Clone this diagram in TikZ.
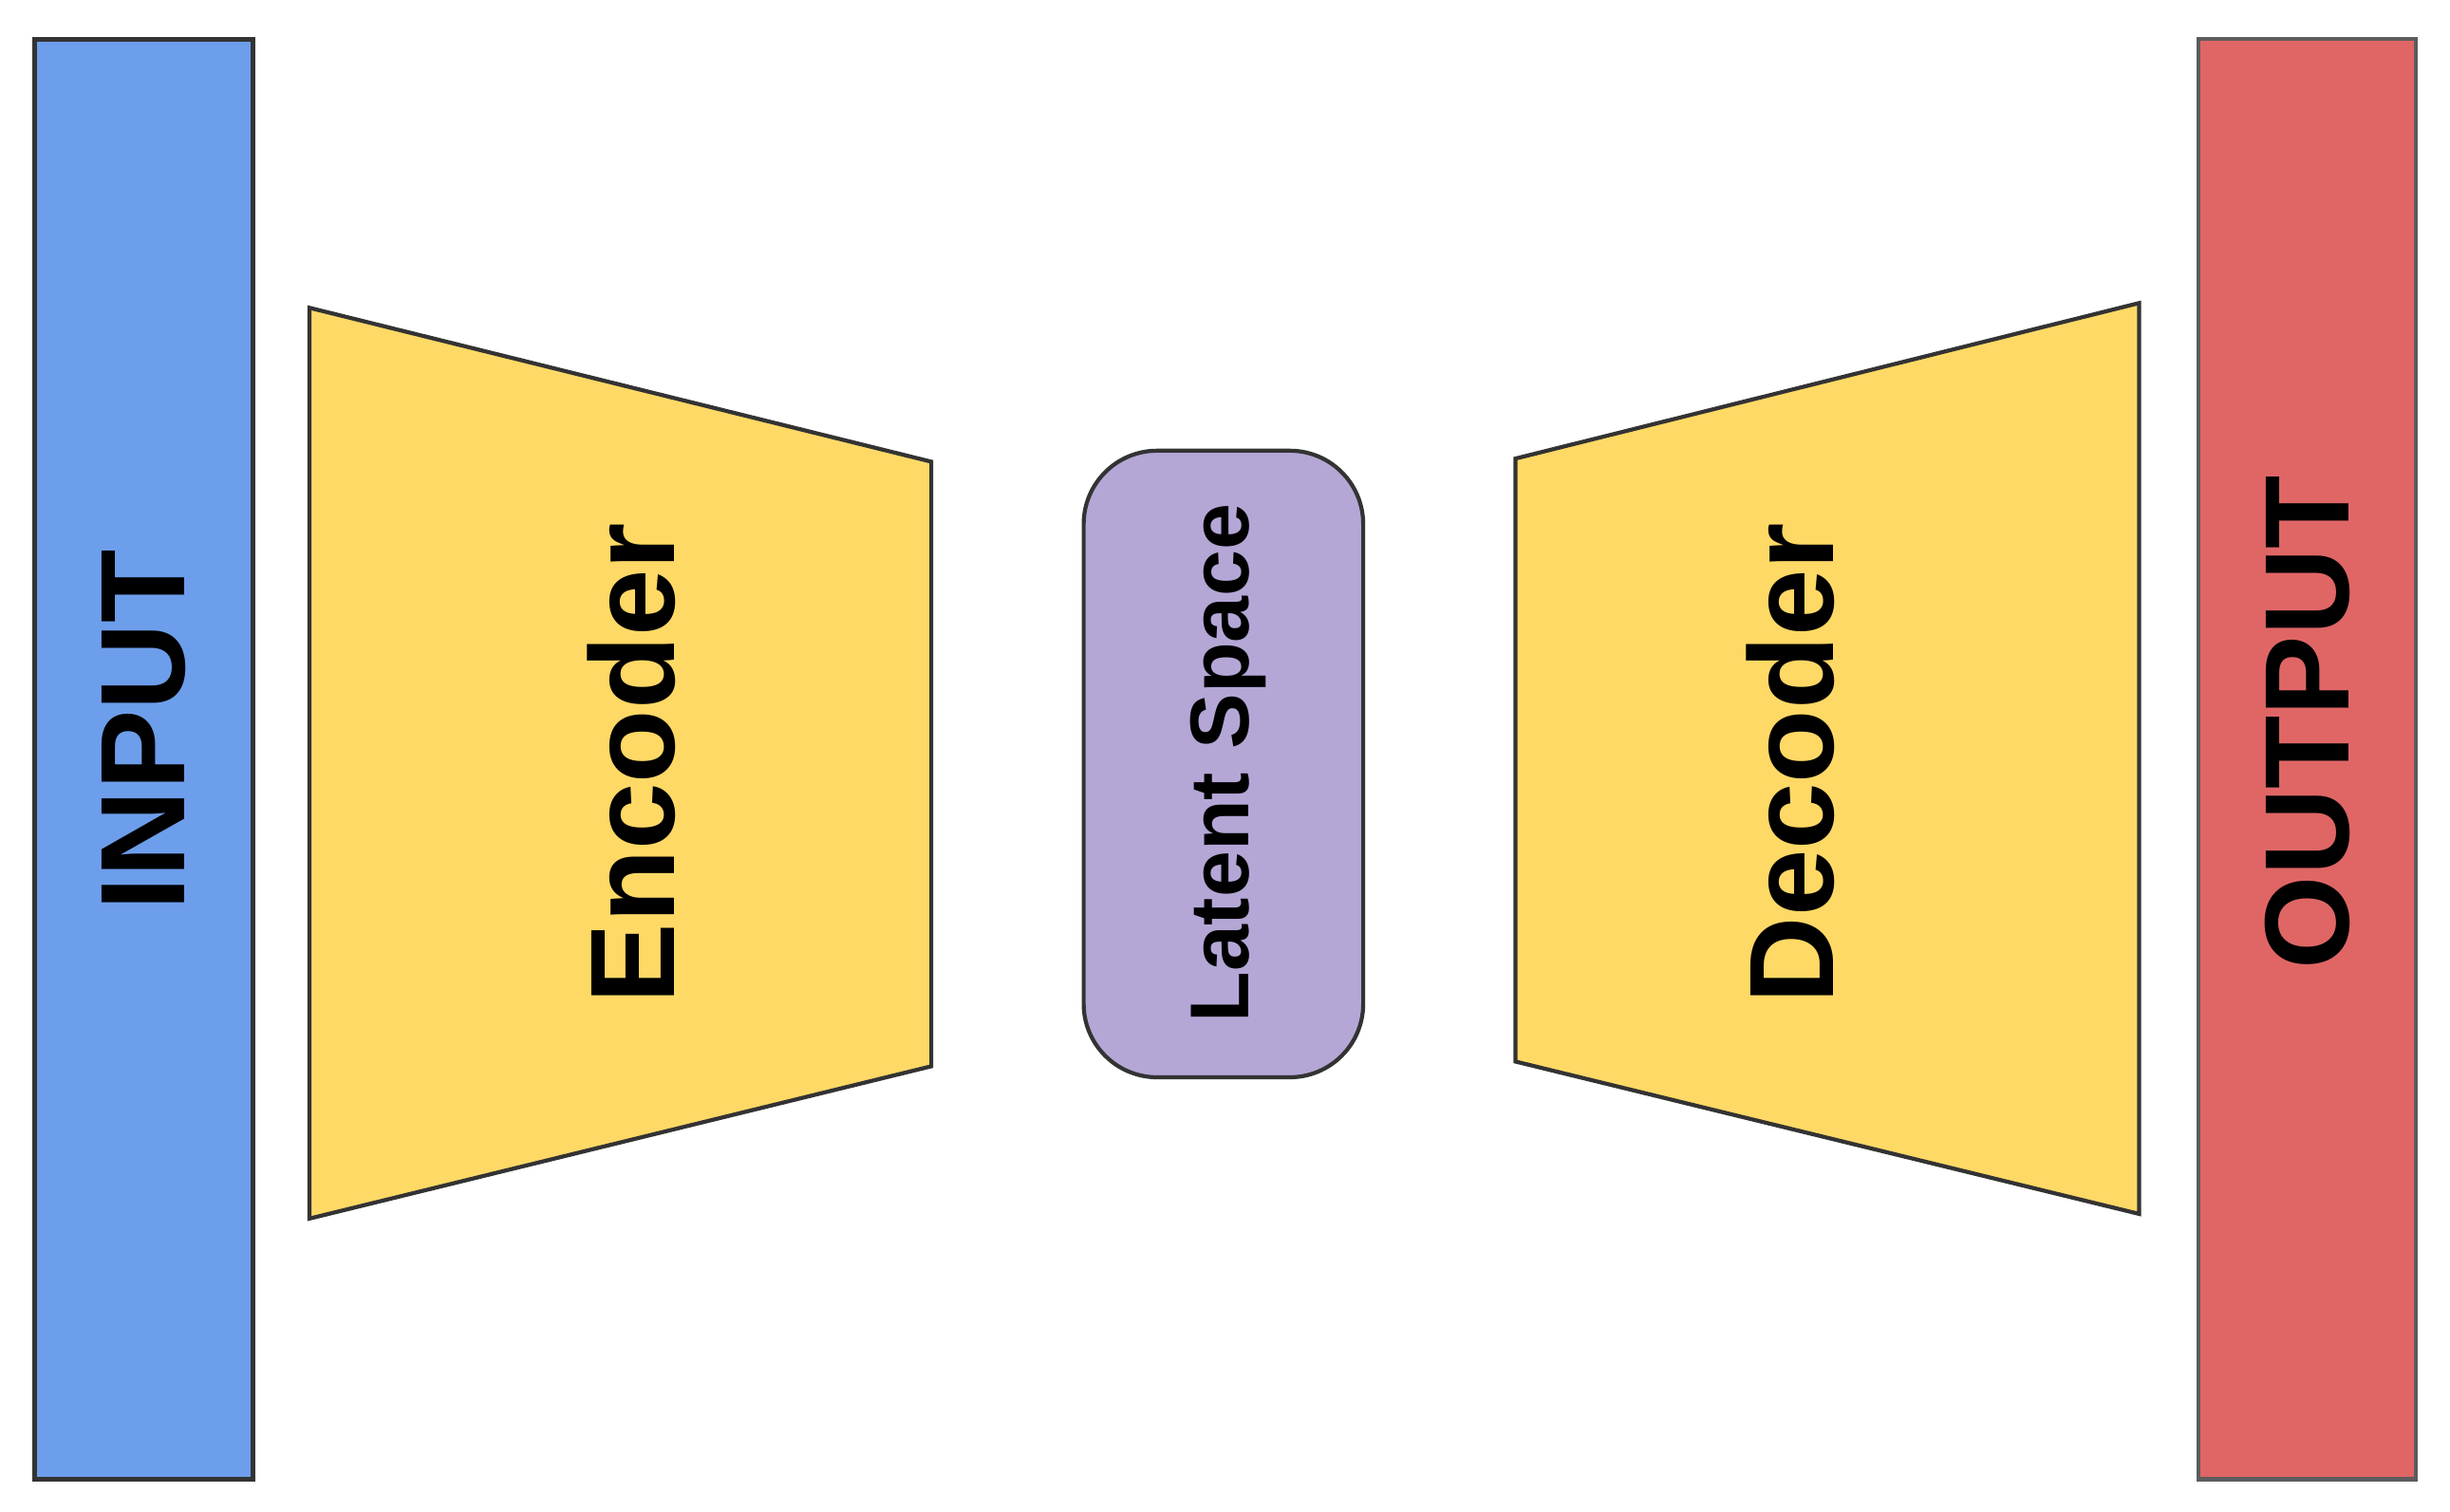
\documentclass[tikz,border=0pt]{standalone}
\usepackage{fontspec}
\setmainfont{Liberation Sans}
\definecolor{cblue}{HTML}{6D9EEB}
\definecolor{cyel}{HTML}{FFD966}
\definecolor{cpur}{HTML}{B4A7D6}
\definecolor{cred}{HTML}{E06666}
\definecolor{cedge}{HTML}{333333}
\begin{document}
\begin{tikzpicture}[x=0.016545cm,y=-0.016545cm,
  shp/.style={draw=cedge,line width=1.2pt},
  lbl/.style={rotate=90,font=\fontsize{36}{40}\selectfont\bfseries}]
\useasboundingbox (0,0) rectangle (1560,962.8);
\fill[white] (0,0) rectangle (1560,962.8);
\draw[shp,fill=cblue,line width=1.6pt] (22,25) rectangle (161,942);
\node[lbl] (in) at (91.5,465) {INPUT};
\draw[shp,fill=cyel] (197,196) -- (593,294) -- (593,679) -- (197,776) -- cycle;
\node[lbl] (enc) at (402,486) {Encoder};
\draw[shp,fill=cpur,rounded corners=22pt] (690,287) rectangle (868,686);
\node[lbl,font=\fontsize{25}{28}\selectfont\bfseries] (lat) at (782,486) {Latent Space};
\draw[shp,fill=cyel] (965,292) -- (1362,193) -- (1362,773) -- (965,676) -- cycle;
\node[lbl] (dec) at (1140,486) {Decoder};
\draw[shp,fill=cred,draw=cedge!80,line width=1.2pt] (1400,25) rectangle (1538,942);
\node[lbl] (out) at (1469,460) {OUTPUT};
\end{tikzpicture}
\end{document}
